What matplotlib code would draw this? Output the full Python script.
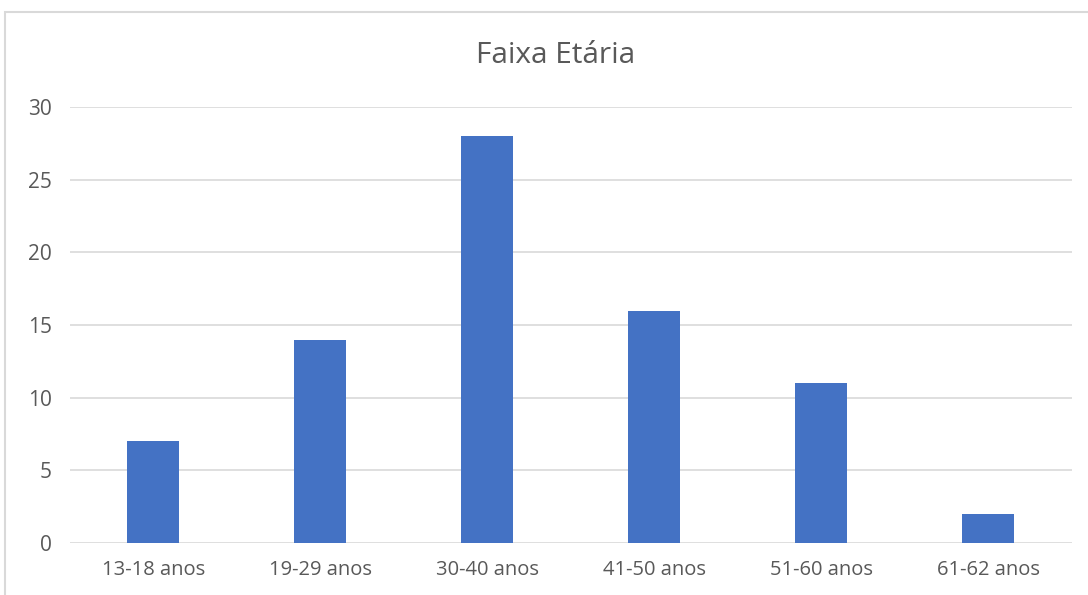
import matplotlib
matplotlib.use("Agg")
import matplotlib.pyplot as plt
from matplotlib.patches import Rectangle

# dados
faixas = ["13-18 anos", "19-29 anos", "30-40 anos", "41-50 anos", "51-60 anos", "61-62 anos"]
valores = [7, 14, 28, 16, 11, 2]
yticks = [0, 5, 10, 15, 20, 25, 30]

plt.rcParams['font.family'] = ['Open Sans', 'DejaVu Sans']
cinza = "#595959"

fig = plt.figure(figsize=(10.88, 5.95), dpi=100)
# moldura do grafico
fig.patches.append(Rectangle((5 / 1088, -0.1), 1.2, 1 - 12 / 595 + 0.1,
                             transform=fig.transFigure, fill=False,
                             edgecolor="#D9D9D9", linewidth=1.5))

ax = fig.add_axes([0.064, 0.0874, 0.921, 0.7326])
x = range(len(faixas))
ax.bar(x, valores, width=0.31, color="#4472C4", zorder=3)
ax.set_xlim(-0.5, len(faixas) - 0.5)
ax.set_ylim(0, 30)
ax.set_yticks(yticks)
ax.set_xticks(list(x))
ax.set_xticklabels(faixas)
ax.grid(axis="y", color="#D9D9D9", linewidth=1.2, zorder=0)
for s in ax.spines.values():
    s.set_visible(False)
ax.tick_params(length=0, colors=cinza, labelsize=14.5)
ax.tick_params(axis="y", pad=13, labelsize=15)
ax.tick_params(axis="x", pad=12)

fig.text(0.511, 0.907, "Faixa Etária", ha="center", va="center", fontsize=21.5, color=cinza)

fig.savefig("out.png", dpi=100)
